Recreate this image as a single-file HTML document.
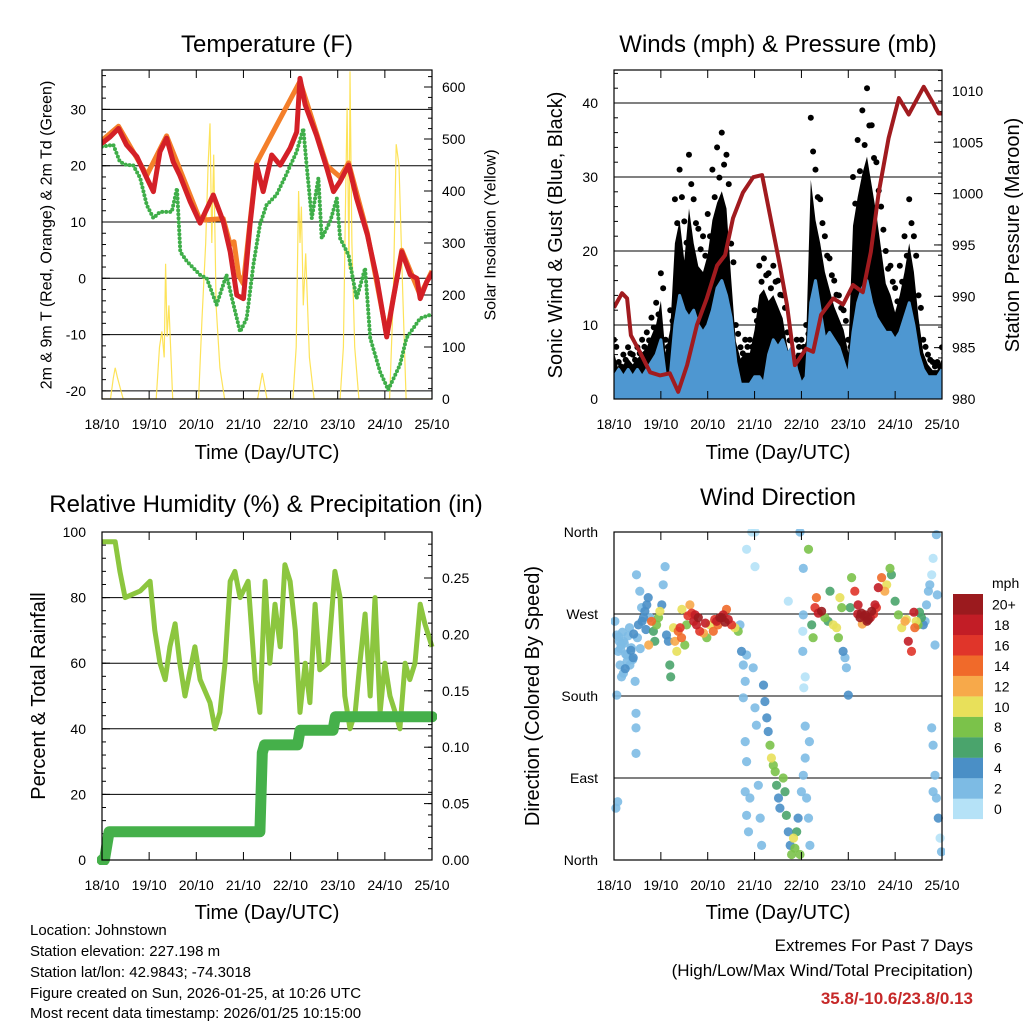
<!DOCTYPE html>
<html><head><meta charset="utf-8"><style>
html,body{margin:0;padding:0;background:#fff;}
svg{display:block;font-family:"Liberation Sans",Arial,sans-serif;}
</style></head><body>
<svg id="chart" width="1024" height="1024" viewBox="0 0 1024 1024" xmlns="http://www.w3.org/2000/svg">
<rect width="1024" height="1024" fill="#fff"/>
<g id="g"></g>
<text x="30" y="935" font-size="15">Location: Johnstown</text>
<text x="30" y="956" font-size="15">Station elevation: 227.198 m</text>
<text x="30" y="977" font-size="15">Station lat/lon: 42.9843; -74.3018</text>
<text x="30" y="998" font-size="15">Figure created on Sun, 2026-01-25, at 10:26 UTC</text>
<text x="30" y="1018" font-size="15">Most recent data timestamp: 2026/01/25 10:15:00</text>
<text x="973" y="951" font-size="17" text-anchor="end">Extremes For Past 7 Days</text>
<text x="973" y="976" font-size="17" text-anchor="end">(High/Low/Max Wind/Total Precipitation)</text>
<text x="973" y="1004" font-size="17" font-weight="bold" fill="#c62828" text-anchor="end">35.8/-10.6/23.8/0.13</text>
</svg>
<script>
// ---------- data ----------
const dayLabels=["18/10","19/10","20/10","21/10","22/10","23/10","24/10","25/10"];
const tempTicks=[-20,-10,0,10,20,30];
const solarTicks=[0,100,200,300,400,500,600];
const windTicks=[0,10,20,30,40];
const presTicks=[980,985,990,995,1000,1005,1010];
const rhTicks=[0,20,40,60,80,100];
const rainTicks=[0,0.05,0.10,0.15,0.20,0.25];
const dirTickVals=[0,90,180,270,360];
const dirTickLabels=["North","East","South","West","North"];

const redDays=[0,0.17,0.35,0.52,0.74,0.95,1.09,1.23,1.37,1.51,1.65,1.87,2.08,2.36,2.57,2.72,2.86,3.0,3.14,3.28,3.42,3.6,3.78,3.99,4.13,4.2,4.31,4.55,4.77,4.91,5.05,5.23,5.4,5.63,5.83,6.04,6.18,6.36,6.54,6.68,6.75,6.89,7.0];
const redTemp=[24,25.1,26.6,23.7,21.6,17.8,15.4,22.5,24.9,20.7,18.3,13.6,9.8,14.8,10.1,4.7,-3,-3.6,9.5,20.1,15.4,21.9,20.1,23.1,26,35.5,30.8,25.4,19.5,15.4,17.2,20.1,14.2,7.7,0,-10.4,-3.6,4.7,0.6,0,-3.6,-0.6,0.9];
const orangeDays=[0,0.35,0.95,1.37,2.08,2.57,2.72,2.8,2.9,3.0,3.14,3.28,4.2,4.77,5.05,5.23,5.63,6.04,6.36,6.75,7.0];
const orangeTemp=[24.5,27,18.3,25.3,10.3,10.6,6,6.5,0.5,-1,10,20.5,35,20,18,20.5,8,-10,5,-3,1.3];
const greenDays=[0,0.24,0.38,0.52,0.66,0.81,0.95,1.09,1.23,1.48,1.59,1.66,1.8,2.08,2.22,2.43,2.64,2.79,2.93,3.07,3.21,3.35,3.49,3.7,3.9,4.13,4.27,4.34,4.45,4.59,4.66,4.84,4.98,5.05,5.23,5.4,5.58,5.69,5.9,6.07,6.32,6.46,6.75,6.96];
const greenTemp=[23.4,23.7,20.7,20.1,20.1,17.8,13,10.7,11.8,11.8,16,4.7,3,0.6,0,-4.7,0.6,-4.7,-9.5,-7.1,2.3,9.5,13,14.8,18.3,22.5,26.6,20.1,10.7,17.8,7.1,10.1,14.2,7.1,4.1,-3.6,1.8,-10.6,-16.6,-19.8,-15.4,-10.6,-7.1,-6.5];
const solarDays=[0,0.18,0.24,0.28,0.33,0.45,1.15,1.22,1.27,1.32,1.35,1.38,1.42,1.5,2.05,2.12,2.2,2.25,2.29,2.33,2.37,2.42,2.5,2.6,3.3,3.4,3.5,4.05,4.12,4.17,4.2,4.23,4.27,4.32,4.4,4.5,5.05,5.12,5.17,5.2,5.24,5.26,5.3,5.36,5.45,6.1,6.18,6.24,6.3,6.38,6.45,7];
const solarVals=[0,0,40,60,40,0,0,100,130,80,260,120,180,0,0,150,300,450,530,300,470,180,60,0,0,50,0,0,100,400,300,370,180,280,80,0,0,100,400,560,250,630,300,100,0,0,200,490,450,200,0,0];

const windDays=[0,0.1,0.2,0.3,0.4,0.5,0.6,0.7,0.8,0.9,1.0,1.1,1.2,1.3,1.4,1.5,1.6,1.7,1.8,1.9,2.0,2.1,2.2,2.3,2.4,2.5,2.6,2.7,2.8,2.9,3.0,3.1,3.2,3.3,3.4,3.5,3.6,3.7,3.8,3.9,4.0,4.1,4.2,4.3,4.4,4.5,4.6,4.7,4.8,4.9,5.0,5.1,5.2,5.3,5.4,5.5,5.6,5.7,5.8,5.9,6.0,6.1,6.2,6.3,6.4,6.5,6.6,6.7,6.8,6.9,7.0];
const windVals=[3,4,3,4,3,4,3,4,5,6,8,3,3,10,14,12,11,12,10,9,10,12,15,16,14,11,5,2,2,2,3,3,2,6,8,7,8,6,7,4,2,3,13,16,12,8,9,8,7,5,3,9,13,15,16,13,11,10,9,9,8,9,11,13,10,6,4,3,3,3,4];
const gustVals=[8,5,6,7,6,7,8,9,11,13,17,8,12,27,31,24,33,27,23,22,25,31,34,36,33,21,10,7,8,8,12,18,19,17,18,16,14,9,6,8,8,10,38,31,27,22,19,16,14,12,8,30,35,39,42,37,32,26,20,18,15,18,22,27,22,14,8,6,5,5,7];
const presDays=[0,0.17,0.28,0.36,0.55,0.77,0.98,1.19,1.37,1.56,1.77,1.98,2.2,2.37,2.54,2.75,2.97,3.16,3.33,3.54,3.69,3.86,4.1,4.25,4.42,4.68,4.89,5.1,5.31,5.48,5.65,5.86,6.08,6.29,6.48,6.61,6.8,6.93,7.0];
const presVals=[988.9,990.3,989.8,986.2,984.6,982.6,982.3,982.5,980.7,983.3,987.2,989.8,993,994,997.6,1000.1,1001.6,1001.8,997.9,993,989.2,983.3,984.9,984.6,988.2,989.8,989.2,991.1,990.4,994.3,1000.1,1005.4,1009.3,1007.7,1009.3,1010.4,1008.9,1007.8,1007.8];

const rhDays=[0,0.28,0.38,0.49,0.81,1.02,1.12,1.23,1.34,1.44,1.55,1.65,1.76,1.87,1.97,2.08,2.29,2.4,2.5,2.61,2.72,2.82,2.93,3.1,3.25,3.35,3.46,3.56,3.67,3.78,3.88,3.99,4.1,4.2,4.31,4.41,4.52,4.62,4.79,4.94,5.05,5.15,5.26,5.37,5.47,5.58,5.69,5.79,5.9,6.0,6.11,6.22,6.32,6.43,6.53,6.64,6.75,6.85,7.0];
const rhVals=[97,97,88,80,82,85,70,60,55,65,72,60,50,58,65,55,48,40,45,60,85,88,80,85,55,45,85,60,78,65,90,85,70,45,60,48,78,58,60,88,80,50,40,45,60,75,50,80,45,60,50,45,40,60,55,60,78,72,65];
const rainDays=[0,0.05,0.15,3.35,3.4,3.45,4.15,4.2,4.9,4.95,7.0];
const rainVals=[0,0,0.025,0.025,0.095,0.102,0.102,0.115,0.115,0.127,0.127];

const dirDays=[0.02,0.06,0.09,0.13,0.16,0.06,0.2,0.27,0.34,0.41,0.45,0.48,0.52,0.55,0.59,0.63,0.66,0.7,0.73,0.77,0.47,0.47,0.47,0.84,0.87,0.91,0.95,0.98,1.02,1.05,1.09,1.12,1.16,1.19,1.21,1.27,1.3,1.34,1.37,1.41,1.44,1.51,1.55,1.62,1.66,1.73,1.76,1.83,1.91,1.98,2.05,2.12,2.19,2.26,2.33,2.4,2.44,2.51,2.58,2.65,2.69,2.72,2.76,2.8,2.83,2.76,2.8,2.83,2.8,2.83,2.87,2.9,2.97,3.01,3.04,3.08,3.12,3.15,3.19,3.22,3.26,3.29,3.33,3.36,3.4,3.44,3.47,3.51,3.54,3.61,3.65,3.68,3.72,3.76,3.79,3.83,3.86,3.9,3.93,3.97,4.0,4.04,4.11,4.15,4.18,2.83,3.01,2.94,3.01,3.72,3.97,4.15,4.04,4.04,4.03,4.03,4.05,4.08,4.08,4.17,4.08,4.22,4.25,4.29,4.32,4.36,4.43,4.5,4.57,4.61,4.68,4.75,4.79,4.82,4.86,4.89,4.93,4.96,5.0,5.04,5.07,5.14,5.21,5.28,5.36,5.43,5.5,5.57,5.6,5.64,5.71,5.78,5.82,5.89,5.92,6.0,6.07,6.14,6.21,6.24,6.28,6.35,6.42,6.49,6.56,6.6,6.64,6.67,6.71,6.74,6.78,6.81,6.85,6.88,6.9,6.78,6.81,6.85,6.88,6.92,6.96,6.99,6.81,
0.04,0.08,0.11,0.14,0.18,0.22,0.25,0.3,0.33,0.37,0.4,0.1,0.15,0.2,0.24,0.28,0.36,0.42,0.5,0.56,0.6,0.68,0.74,0.8,1.45,1.58,1.7,1.8,1.95,2.15,2.22,2.3,2.37,5.2,5.25,5.33,5.4,5.47,5.54,5.3,6.4,6.45,6.52,6.7,6.75];
const dirDegs=[262,247,229,214,201,181,240,225,214,222,196,313,258,295,277,266,273,280,288,266,161,145,117,251,240,258,266,273,280,302,322,247,240,214,201,255,240,229,251,255,244,236,258,280,271,269,258,251,249,244,258,251,262,266,269,275,264,258,255,251,258,229,214,196,225,178,130,108,75,49,31,68,211,167,148,82,46,16,192,174,156,141,126,112,104,97,82,68,57,90,75,49,31,16,6,24,13,31,46,6,75,93,68,46,16,341,360,360,322,284,360,341,320,269,251,229,189,201,147,130,112,258,244,277,288,271,273,266,262,295,258,255,244,288,277,229,222,211,181,277,310,295,280,271,269,264,273,280,277,299,310,295,302,320,313,284,269,255,262,264,240,229,255,258,266,258,262,280,295,302,313,331,236,357,291,145,126,93,68,46,24,9,75,57,64,
240,232,250,238,226,246,255,233,220,245,236,205,210,218,230,248,244,232,262,253,236,262,275,268,262,266,260,264,258,266,261,270,266,268,262,266,270,259,272,262,272,264,268,280,270];
const dirSpeeds=[3,2,2,2,2,2,2,2,3,4,2,2,4,2,3,4,4,4,4,3,2,2,2,6,6,8,8,10,4,3,3,4,4,6,6,10,12,10,14,16,14,8,8,12,16,18,18,16,12,8,10,14,18,20,18,14,18,16,10,8,2,4,2,2,2,3,2,2,2,2,2,2,2,3,2,2,2,2,4,4,4,4,8,10,8,8,6,4,4,8,6,6,4,4,8,10,8,6,4,8,2,3,2,2,2,1,1,1,1,1,2,8,2,2,1,2,1,1,2,2,2,6,8,16,14,18,20,8,6,6,10,10,8,10,8,4,3,3,4,6,8,16,18,20,20,20,20,18,16,18,14,12,10,8,6,6,8,10,12,10,18,16,14,8,6,4,3,3,2,2,1,1,2,2,2,2,2,2,3,4,1,
2,2,3,2,2,3,2,2,3,2,2,2,2,2,2,3,4,3,4,4,3,2,4,4,12,14,10,16,18,20,18,16,14,20,20,19,20,18,20,18,16,12,18,10,6];

// ---------- helpers ----------
const NS="http://www.w3.org/2000/svg";
const G=document.getElementById('g');
function mk(tag,attrs,parent){const e=document.createElementNS(NS,tag);for(const k in attrs)e.setAttribute(k,attrs[k]);(parent||G).appendChild(e);return e;}
function txt(s,attrs,parent){const e=mk('text',attrs,parent);e.textContent=s;return e;}
function panel(x0,x1,y0,y1){return {x0,x1,y0,y1,x:d=>x0+d*(x1-x0)/7};}
const P1=panel(102,432,70,399),P2=panel(614,942,70,399),P3=panel(102,432,532,860),P4=panel(614,942,532,860);
const t1=v=>278.3-v*5.63, s1=v=>399-v*0.52;
const w2=v=>399-v*7.4, p2=v=>399-(v-980)*10.27;
const r3=v=>860-v*3.28, q3=v=>860-v*1128;
const d4=v=>860-v*0.9111;
function pathOf(P,days,vals,fy){return days.map((d,i)=>(i?'L':'M')+P.x(d).toFixed(1)+','+fy(vals[i]).toFixed(1)).join('');}

function frame(P,name){
  const g=mk('g',{});
  
  
  mk('rect',{x:P.x0,y:P.y0,width:P.x1-P.x0,height:P.y1-P.y0,fill:'none',stroke:'#000','stroke-width':1.2},g);
  for(let d=0;d<=7;d++){
    const x=P.x(d);
    mk('line',{x1:x,x2:x,y1:P.y1,y2:P.y1-8,stroke:'#000'},g);
    mk('line',{x1:x,x2:x,y1:P.y0,y2:P.y0+8,stroke:'#000'},g);
    const t=txt(dayLabels[d],{x:x,y:P.y1+30,'font-size':14,'text-anchor':'middle'},g);
    
    
  }
  return g;
}
function leftAxis(P,ticks,fy,labels,minorStep,grid){
  ticks.forEach((v,i)=>{
    const y=fy(v);
    if(grid && y>P.y0+1 && y<P.y1-1) mk('line',{x1:P.x0,x2:P.x1,y1:y,y2:y,stroke:'#000','stroke-width':1});
    mk('line',{x1:P.x0,x2:P.x0+8,y1:y,y2:y,stroke:'#000'});
    const t=txt(labels?labels[i]:String(v),{x:P.x0-16,y:y+5,'font-size':14,'text-anchor':'end'});
    
    
  });
  if(minorStep){for(let v=ticks[0]-minorStep*4;v<=ticks[ticks.length-1]+minorStep*4;v+=minorStep){const y=fy(v);if(y>P.y0&&y<P.y1)mk('line',{x1:P.x0,x2:P.x0+4,y1:y,y2:y,stroke:'#000'});}}
}
function rightAxis(P,ticks,fy,fmt,minorStep){
  ticks.forEach(v=>{
    const y=fy(v);
    mk('line',{x1:P.x1,x2:P.x1-8,y1:y,y2:y,stroke:'#000'});
    const t=txt(fmt(v),{x:P.x1+10,y:y+5,'font-size':14});
    
    
  });
  if(minorStep){for(let v=ticks[0]-minorStep*4;v<=ticks[ticks.length-1]+minorStep*4;v+=minorStep){const y=fy(v);if(y>P.y0&&y<P.y1)mk('line',{x1:P.x1,x2:P.x1-4,y1:y,y2:y,stroke:'#000'});}}
}
function rot(s,cx,cy,size,name){const t=txt(s,{x:cx,y:cy,'font-size':size,'text-anchor':'middle','dominant-baseline':'central',transform:`rotate(-90 ${cx} ${cy})`});}
function title(s,x,y,size,name){const t=txt(s,{x:x,y:y,'font-size':size,'text-anchor':'middle'});}

const clip1=mk('clipPath',{id:'c1'});mk('rect',{x:102,y:70,width:330,height:329},clip1);
const clip2=mk('clipPath',{id:'c2'});mk('rect',{x:614,y:70,width:328,height:329},clip2);
const clip3=mk('clipPath',{id:'c3'});mk('rect',{x:97,y:527,width:340,height:338},clip3);
const clip4=mk('clipPath',{id:'c4'});mk('rect',{x:611,y:529,width:334,height:334},clip4);

// ---------- Panel 1 ----------
leftAxis(P1,tempTicks,t1,null,2,true);
rightAxis(P1,solarTicks,s1,v=>String(v),20);
const g1=mk('g',{'clip-path':'url(#c1)'});
let e;
e=mk('path',{d:pathOf(P1,solarDays,solarVals,s1),fill:'none',stroke:'#fde047','stroke-width':1.2,opacity:0.9},g1);


e=mk('path',{d:pathOf(P1,greenDays,greenTemp,t1),fill:'none',stroke:'#3fae49','stroke-width':4,'stroke-dasharray':'0 4','stroke-linecap':'round','stroke-linejoin':'round'},g1);


e=mk('path',{d:pathOf(P1,orangeDays,orangeTemp,t1),fill:'none',stroke:'#f47f2a','stroke-width':5,'stroke-linejoin':'round'},g1);


e=mk('path',{d:pathOf(P1,redDays,redTemp,t1),fill:'none',stroke:'#d42027','stroke-width':5,'stroke-linejoin':'round','stroke-linecap':'round'},g1);


frame(P1,'temperature');
title('Temperature (F)',267,52,24,'temperature-title');
title('Time (Day/UTC)',267,459,20,'temperature-x-title');
rot('2m & 9m T (Red, Orange) & 2m Td (Green)',47,235,16,'temperature-y-title');
rot('Solar Insolation (Yellow)',491,235,16,'solar-y-title');

// ---------- Panel 2 ----------
leftAxis(P2,windTicks,w2,null,2,true);
rightAxis(P2,presTicks,p2,v=>String(v),1);
const g2=mk('g',{'clip-path':'url(#c2)'});
let gp='M'+P2.x(windDays[0])+','+w2(0);
windDays.forEach((d,i)=>{gp+='L'+P2.x(d).toFixed(1)+','+w2(gustVals[i]*0.78).toFixed(1);});
gp+='L'+P2.x(7)+','+w2(0);
e=mk('path',{d:gp+'Z',fill:'#000'},g2);


windDays.forEach((d,i)=>{
  const c=mk('circle',{cx:P2.x(d),cy:w2(gustVals[i]),r:3,fill:'#000'},g2);
  
  
  const c2=mk('circle',{cx:P2.x(d)+2.3,cy:w2(gustVals[i]*0.88),r:3,fill:'#000'},g2);
  
  
});
let bp='M'+P2.x(0)+','+w2(0);windDays.forEach((d,i)=>{bp+='L'+P2.x(d).toFixed(1)+','+w2(windVals[i]).toFixed(1);});
bp+='L'+P2.x(7)+','+w2(0);
e=mk('path',{d:bp+'Z',fill:'#4e97d1'},g2);


e=mk('path',{d:pathOf(P2,windDays,windVals,w2),fill:'none',stroke:'#4e97d1','stroke-width':3,'stroke-linejoin':'round'},g2);


e=mk('path',{d:pathOf(P2,presDays,presVals,p2),fill:'none',stroke:'#a11b1f','stroke-width':4,'stroke-linejoin':'round'},g2);


frame(P2,'winds');
title('Winds (mph) & Pressure (mb)',778,52,24,'winds-title');
title('Time (Day/UTC)',778,459,20,'winds-x-title');
rot('Sonic Wind & Gust (Blue, Black)',556,235,20,'winds-y-title');
rot('Station Pressure (Maroon)',1013,235,20,'pressure-y-title');

// ---------- Panel 3 ----------
leftAxis(P3,rhTicks,r3,null,4,true);
rightAxis(P3,rainTicks,q3,v=>v.toFixed(2),0.01);
const g3=mk('g',{'clip-path':'url(#c3)'});
e=mk('path',{d:pathOf(P3,rhDays,rhVals,r3),fill:'none',stroke:'#8cc63f','stroke-width':5,'stroke-linejoin':'round'},g3);


e=mk('path',{d:pathOf(P3,rainDays,rainVals,q3),fill:'none',stroke:'#45b04a','stroke-width':11,'stroke-linejoin':'round','stroke-linecap':'round'},g3);


frame(P3,'humidity');
title('Relative Humidity (%) & Precipitation (in)',266,512,24,'humidity-title');
title('Time (Day/UTC)',267,919,20,'humidity-x-title');
rot('Percent & Total Rainfall',39,696,20,'humidity-y-title');

// ---------- Panel 4 ----------
leftAxis(P4,dirTickVals,d4,dirTickLabels,0,true);
const colors=['#b5e2f7','#7dbbe4','#4a8fc6','#4aa46c','#7bc24a','#e8e05a','#f7a94a','#f06a2a','#e0352a','#c21d26','#9b1a1e'];
const cbLabels=['0','2','4','6','8','10','12','14','16','18','20+'];
function colorFor(s){return colors[Math.min(10,Math.max(0,Math.floor(s/2)))];}
const g4=mk('g',{'clip-path':'url(#c4)'});
const order=dirSpeeds.map((s,i)=>i).sort((a,b)=>dirSpeeds[a]-dirSpeeds[b]);
order.forEach(i=>{
  const c=mk('circle',{cx:P4.x(dirDays[i]).toFixed(1),cy:d4(dirDegs[i]).toFixed(1),r:4.6,fill:colorFor(dirSpeeds[i]),opacity:0.9},g4);
  
  
});
frame(P4,'direction');
title('Wind Direction',778,505,24,'direction-title');
title('Time (Day/UTC)',778,919,20,'direction-x-title');
rot('Direction (Colored By Speed)',533,696,20,'direction-y-title');
const cb=mk('g',{});


for(let k=0;k<11;k++){
  const y=594+(10-k)*20.45;
  const r=mk('rect',{x:953,y:y,width:30,height:20.6,fill:colors[k]},cb);
  
  
  const t=txt(cbLabels[k],{x:k==10?992:994,y:y+15.5,'font-size':14},cb);
  
  
}
const u=txt('mph',{x:992,y:588,'font-size':14},cb);


</script>
</body></html>
